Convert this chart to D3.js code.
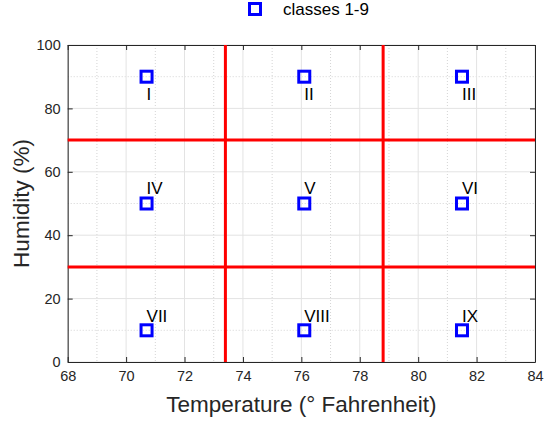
<!DOCTYPE html>
<html><head><meta charset="utf-8">
<script src="https://cdn.jsdelivr.net/npm/d3@7"></script>
<style>body{margin:0;background:#fff}svg{display:block;font-family:Arial,"Liberation Sans",sans-serif}</style>
</head><body>
<svg id="c" width="544" height="421"></svg>
<script>
// class centres (temperature, humidity) and their roman-numeral labels
const classNames = ["I","II","III","IV","V","VI","VII","VIII","IX"];
const classTemp = [70.7, 76.1, 81.5, 70.7, 76.1, 81.5, 70.7, 76.1, 81.5];
const classHum  = [90, 90, 90, 50, 50, 50, 10, 10, 10];
const labelHum  = [84.5, 84.5, 84.5, 55, 55, 55, 14.5, 14.5, 14.5];
// class boundaries
const tempBounds = [73.4, 78.8];
const humBounds = [30, 70];
const xTicks = [68,70,72,74,76,78,80,82,84];
const yTicks = [0,20,40,60,80,100];
const xMinor = d3.range(68, 84.01, 1);
const yMinor = d3.range(0, 100.01, 10);

const svg = d3.select("#c");
const L = 67.7, R = 535, T = 45, B = 362;
const x = d3.scaleLinear().domain([68,84]).range([L,R]);
const y = d3.scaleLinear().domain([0,100]).range([B,T]);

// minor grid (dotted)
const g = svg.append("g");
g.selectAll(".mx").data(xMinor.filter(v=>!xTicks.includes(v))).join("line")
  .attr("x1",d=>x(d)).attr("x2",d=>x(d)).attr("y1",T).attr("y2",B)
  .attr("stroke","#d4d4d4").attr("stroke-width",1).attr("stroke-dasharray","1,2");
g.selectAll(".my").data(yMinor.filter(v=>!yTicks.includes(v))).join("line")
  .attr("y1",d=>y(d)).attr("y2",d=>y(d)).attr("x1",L).attr("x2",R)
  .attr("stroke","#d4d4d4").attr("stroke-width",1).attr("stroke-dasharray","1,2");
// major grid
g.selectAll(".gx").data(xTicks).join("line")
  .attr("x1",d=>x(d)).attr("x2",d=>x(d)).attr("y1",T).attr("y2",B)
  .attr("stroke","#e3e3e3").attr("stroke-width",1);
g.selectAll(".gy").data(yTicks).join("line")
  .attr("y1",d=>y(d)).attr("y2",d=>y(d)).attr("x1",L).attr("x2",R)
  .attr("stroke","#e3e3e3").attr("stroke-width",1);

// axes with inward ticks
const axisCol = "#262626";
function styleAxis(sel){
  sel.select(".domain").attr("stroke",axisCol);
  sel.selectAll(".tick line").attr("stroke",axisCol);
  sel.selectAll("text").attr("fill",axisCol).attr("font-size",14.5)
    .attr("font-family","Arial, 'Liberation Sans', sans-serif");
}
svg.append("g").attr("transform",`translate(0,${B})`)
  .call(d3.axisBottom(x).tickValues(xTicks).tickSize(-5).tickPadding(9).tickSizeOuter(0)).call(styleAxis);
svg.append("g").attr("transform",`translate(${L},0)`)
  .call(d3.axisLeft(y).tickValues(yTicks).tickSize(-5).tickPadding(7).tickSizeOuter(0)).call(styleAxis);
svg.append("g").attr("transform",`translate(0,${T})`)
  .call(d3.axisTop(x).tickValues(xTicks).tickSize(-5).tickFormat("").tickSizeOuter(0)).call(styleAxis);
svg.append("g").attr("transform",`translate(${R},0)`)
  .call(d3.axisRight(y).tickValues(yTicks).tickSize(-5).tickFormat("").tickSizeOuter(0)).call(styleAxis);

// class boundaries
svg.selectAll(".vb").data(tempBounds).join("line")
  .attr("x1",d=>x(d)).attr("x2",d=>x(d)).attr("y1",T).attr("y2",B)
  .attr("stroke","#ff0000").attr("stroke-width",3);
svg.selectAll(".hb").data(humBounds).join("line")
  .attr("y1",d=>y(d)).attr("y2",d=>y(d)).attr("x1",L).attr("x2",R)
  .attr("stroke","#ff0000").attr("stroke-width",3);

// class markers
const s = 11;
svg.selectAll(".pt").data(classTemp).join("rect")
  .attr("x",(d)=>x(d)-s/2).attr("y",(d,i)=>y(classHum[i])-s/2)
  .attr("width",s).attr("height",s)
  .attr("fill","none").attr("stroke","#0000ff").attr("stroke-width",3);

// class labels
svg.selectAll(".lb").data(classNames).join("text")
  .attr("x",(d,i)=>x(classTemp[i])).attr("y",(d,i)=>y(labelHum[i]))
  .attr("dy","0.35em").attr("font-size",17).attr("fill","#000").text(d=>d);

// axis titles
svg.append("text").attr("x",(L+R)/2).attr("y",412).attr("text-anchor","middle")
  .attr("font-size",22.5).attr("fill",axisCol).text("Temperature (° Fahrenheit)");
svg.append("text").attr("transform",`translate(29,${(T+B)/2}) rotate(-90)`)
  .attr("text-anchor","middle").attr("font-size",22.5).attr("fill",axisCol).text("Humidity (%)");

// legend
svg.append("rect").attr("x",249.5).attr("y",3.5).attr("width",11).attr("height",11)
  .attr("fill","none").attr("stroke","#0000ff").attr("stroke-width",3);
svg.append("text").attr("x",283).attr("y",15).attr("font-size",17).attr("fill","#000").text("classes 1-9");
</script>
</body></html>
